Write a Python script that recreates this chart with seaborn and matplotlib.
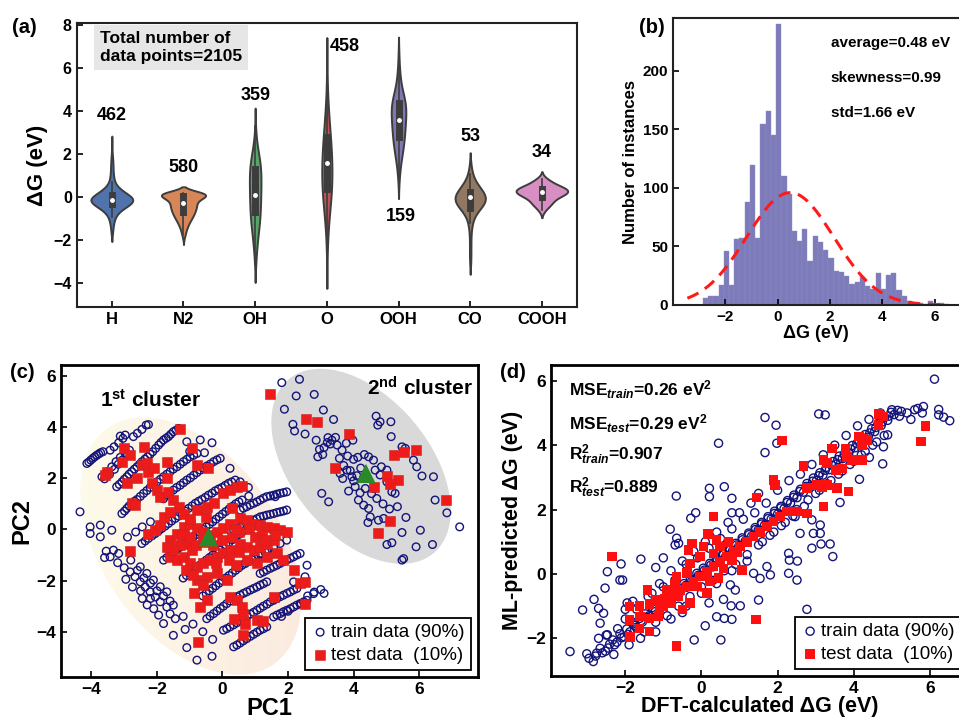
import numpy as np
import pandas as pd
import matplotlib
matplotlib.use("Agg")
import matplotlib.pyplot as plt
import matplotlib.transforms as mtransforms
from matplotlib.patches import Ellipse
from matplotlib.collections import PolyCollection
from matplotlib.colors import LinearSegmentedColormap
import seaborn as sns

plt.rcParams['font.family'] = ['Liberation Sans', 'DejaVu Sans']
plt.rcParams['font.weight'] = 'bold'
plt.rcParams['axes.labelweight'] = 'bold'
plt.rcParams['mathtext.fontset'] = 'custom'
plt.rcParams['mathtext.rm'] = 'Liberation Sans'
plt.rcParams['mathtext.it'] = 'Liberation Sans:italic'
plt.rcParams['mathtext.bf'] = 'Liberation Sans:bold'

categories = ["H", "N2", "OH", "O", "OOH", "CO", "COOH"]
count_labels = ["462", "580", "359", "458", "159", "53", "34"]
count_label_x = [0, 1, 2, 3.25, 4.03, 5, 6]
count_label_y = [3.83, 1.38, 4.76, 7.0, -0.9, 2.82, 2.1]

H_values = [-1.7, -1.5, -1.3, -1.1, -0.9, -0.7, -0.5, -0.3, -0.1, 0.1, 0.3, 0.5, 0.7, 0.9, 1.1, 1.3, 1.5, 1.7, 1.9, 2.1, 2.3, 2.5]
H_counts = [3, 4, 6, 9, 14, 25, 48, 80, 95, 72, 42, 22, 11, 8, 6, 5, 5, 4, 3, 1, 1, 1]
N2_values = [-1.9, -1.75, -1.6, -1.45, -1.3, -1.15, -1.0, -0.85, -0.7, -0.55, -0.4, -0.25, -0.1, 0.05, 0.2]
N2_counts = [3, 6, 9, 12, 17, 23, 30, 37, 42, 47, 50, 48, 55, 92, 112]
OH_values = [-3.1, -2.7, -2.3, -1.9, -1.5, -1.1, -0.7, -0.3, 0.1, 0.5, 0.9, 1.3, 1.7, 2.1, 2.5, 2.9, 3.3]
OH_counts = [4, 6, 11, 15, 22, 28, 31, 33, 34, 35, 36, 35, 30, 19, 10, 5, 2]
O_values = [-3.2, -2.6, -2.0, -1.4, -0.8, -0.2, 0.4, 1.0, 1.6, 2.2, 2.8, 3.4, 4.0, 4.6, 5.2, 5.8, 6.4]
O_counts = [3, 4, 9, 17, 30, 44, 55, 60, 58, 52, 42, 30, 20, 11, 6, 3, 2]
OOH_values = [0.8, 1.2, 1.6, 2.0, 2.4, 2.8, 3.2, 3.6, 4.0, 4.4, 4.8, 5.2, 5.6, 6.0, 6.6]
OOH_counts = [2, 3, 6, 10, 14, 16, 18, 19, 21, 21, 13, 7, 4, 3, 2]
CO_values = [-2.9, -2.3, -1.7, -1.2, -0.8, -0.5, -0.25, 0.0, 0.25, 0.5, 0.8, 1.1, 1.4]
CO_counts = [1, 1, 1, 2, 3, 6, 10, 11, 8, 5, 3, 1, 1]
COOH_values = [-0.6, -0.45, -0.3, -0.15, 0.0, 0.1, 0.2, 0.3, 0.4, 0.5, 0.6, 0.75, 0.85]
COOH_counts = [1, 1, 3, 2, 3, 3, 4, 5, 4, 3, 2, 2, 1]

# ---------------- (b) histogram data -------------
hist_start = -2.86
hist_width = 0.2
hist_counts = [6, 8, 8, 17, 46, 17, 56, 57, 88, 120, 57, 155, 166, 145, 240, 110, 95, 63, 55, 65,
               38, 59, 54, 47, 40, 29, 28, 25, 18, 20, 24, 16, 14, 27, 14, 26, 27, 13, 8, 3,
               2, 2, 1, 3, 1, 2, 1]
fit_mean, fit_std, fit_peak = 0.48, 1.66, 96.0
stats_text = ["average=0.48 eV", "skewness=0.99", "std=1.66 eV"]
stats_y = [224, 194, 164]

# ---------------- (c) PCA data -------------
pc_train = [
    (-4.14, 2.58), (-4.02, 2.71), (-3.90, 2.84), (-3.78, 2.95), (-3.65, 3.04),
    (-4.08, 2.64), (-3.96, 2.78), (-3.84, 2.90), (-3.72, 3.00),
    (-3.43, 3.10), (-3.31, 3.23), (-3.17, 3.39), (-3.04, 3.56), (-3.12, 3.65), (-2.97, 3.69),
    (-2.60, 3.76), (-2.46, 3.91), (-2.33, 4.08), (-2.72, 3.63), (-2.26, 4.10),
    (-3.68, 2.06), (-3.53, 2.25), (-3.38, 2.45), (-3.25, 2.65), (-3.12, 2.82), (-2.97, 2.97), (-2.84, 3.10),
    (-3.60, 1.98), (-3.45, 2.15), (-3.30, 2.35), (-3.18, 2.55), (-3.05, 2.72), (-2.90, 2.90),
    (-3.23, 1.67), (-3.07, 1.86), (-2.92, 2.06), (-2.77, 2.26), (-2.61, 2.45), (-2.46, 2.65), (-2.29, 2.84),
    (-2.13, 3.04), (-1.95, 3.30), (-1.80, 3.50), (-1.65, 3.63), (-1.50, 3.82), (-1.34, 3.95),
    (-3.15, 1.76), (-3.00, 1.96), (-2.85, 2.16), (-2.69, 2.36), (-2.53, 2.55), (-2.37, 2.75), (-2.21, 2.94),
    (-2.04, 3.17), (-1.88, 3.40), (-1.72, 3.57), (-1.58, 3.72), (-1.42, 3.88),
    (-3.07, 0.62), (-2.92, 0.82), (-2.77, 1.02), (-2.61, 1.17), (-2.41, 1.41), (-2.21, 1.64), (-2.00, 1.86),
    (-1.80, 2.06), (-1.60, 2.26), (-1.39, 2.45), (-1.19, 2.65), (-0.99, 2.84), (-0.78, 2.97),
    (-2.99, 0.72), (-2.85, 0.92), (-2.69, 1.10), (-2.51, 1.29), (-2.31, 1.52), (-2.10, 1.75), (-1.90, 1.96),
    (-1.70, 2.16), (-1.50, 2.36), (-1.29, 2.55), (-1.09, 2.74), (-0.88, 2.90),
    (-2.46, -0.55), (-2.26, -0.35), (-2.05, -0.16), (-1.85, 0.04), (-1.65, 0.23), (-1.44, 0.43), (-1.24, 0.62),
    (-1.04, 0.82), (-0.83, 1.02), (-0.63, 1.17), (-0.43, 1.34), (-0.22, 1.51), (-0.02, 1.64), (0.18, 1.80), (0.39, 1.93),
    (-2.36, -0.45), (-2.15, -0.25), (-1.95, -0.06), (-1.75, 0.13), (-1.55, 0.33), (-1.34, 0.52), (-1.14, 0.72),
    (-0.93, 0.92), (-0.73, 1.10), (-0.53, 1.25), (-0.32, 1.42), (-0.12, 1.58), (0.08, 1.72), (0.28, 1.86),
    (-3.33, -0.81), (-3.17, -0.94), (-3.43, -1.07), (-4.04, 0.10), (-4.04, -0.16), (-3.73, 0.17), (-3.73, -0.29),
    (-3.38, -0.03), (-4.35, 0.69), (-3.55, -0.85), (-3.60, -1.10),
    (-2.82, -1.66), (-2.67, -1.85), (-2.51, -2.05), (-2.36, -2.25), (-2.21, -2.44), (-2.05, -2.64), (-1.90, -2.83),
    (-1.70, -3.03), (-1.50, -2.96), (-2.51, -1.46), (-2.31, -1.72), (-2.11, -1.98), (-1.90, -2.24), (-1.70, -2.44),
    (-2.95, -1.95), (-2.75, -2.25), (-2.45, -2.70), (-2.30, -2.95), (-2.10, -3.10),
    (-3.20, -1.30), (-3.00, -1.50), (-2.80, -1.20), (-2.60, -1.60), (-2.40, -1.90), (-2.20, -2.10), (-2.00, -2.40),
    (-1.80, -2.60), (-1.60, -2.80), (-2.50, -2.40), (-2.20, -2.70), (-1.95, -3.35), (-1.60, -3.30), (-1.20, -3.40),
    (-0.90, -3.70), (-0.60, -4.00), (-0.30, -4.30),
    (-1.80, -3.68), (-1.44, -3.49), (-1.14, -3.91), (-1.50, -4.14), (-0.78, -5.11), (-0.32, -4.96), (-1.09, -4.62),
    (-0.48, -3.49), (-0.27, -3.29), (-0.07, -3.09), (0.13, -2.90), (0.34, -2.70), (0.54, -2.57), (0.74, -2.44),
    (0.95, -2.31), (1.15, -2.18), (1.35, -2.05),
    (-0.38, -3.39), (-0.17, -3.19), (0.03, -3.00), (0.24, -2.80), (0.44, -2.63), (0.64, -2.50), (0.85, -2.37),
    (1.05, -2.25), (1.25, -2.12),
    (0.03, -3.94), (0.23, -3.81), (0.44, -3.65), (0.64, -3.49), (0.85, -3.31), (1.05, -3.16), (1.25, -3.00),
    (1.46, -2.83), (1.66, -2.70), (1.86, -2.57), (2.07, -2.44), (2.27, -2.31),
    (0.13, -3.88), (0.34, -3.73), (0.54, -3.57), (0.75, -3.40), (0.95, -3.24), (1.15, -3.08), (1.36, -2.92),
    (1.56, -2.77), (1.76, -2.63), (1.97, -2.50), (2.17, -2.37),
    (0.34, -4.59), (0.54, -4.44), (0.74, -4.27), (0.95, -4.10), (1.15, -3.94), (1.35, -3.81),
    (0.44, -4.52), (0.64, -4.35), (0.85, -4.18), (1.05, -4.02), (1.25, -3.88),
    (1.56, -3.42), (1.76, -3.29), (1.96, -3.16), (2.17, -3.03), (2.37, -2.90), (2.58, -2.77),
    (1.66, -3.35), (1.86, -3.22), (2.07, -3.10), (2.27, -2.96), (2.48, -2.83),
    (1.15, -1.72), (1.35, -1.59), (1.56, -1.46), (1.76, -1.33), (1.96, -1.20), (2.17, -1.07), (2.37, -0.94),
    (1.25, -1.66), (1.46, -1.52), (1.66, -1.40), (1.86, -1.26), (2.07, -1.13), (2.27, -1.00),
    (0.95, -1.07), (1.15, -0.94), (1.35, -0.81), (1.56, -0.68), (1.76, -0.55), (1.96, -0.42),
    (0.54, 0.76), (0.74, 0.89), (0.95, 1.02), (1.15, 1.15), (1.35, 1.28), (1.56, 1.34), (1.76, 1.41), (1.96, 1.47),
    (0.64, 0.83), (0.85, 0.96), (1.05, 1.08), (1.25, 1.22), (1.46, 1.31), (1.66, 1.38), (1.86, 1.44),
    (0.34, -0.03), (0.54, 0.10), (0.74, 0.23), (0.95, 0.36), (1.15, 0.49), (1.35, 0.56), (1.56, 0.62), (1.76, 0.69), (1.96, 0.76),
    (0.44, 0.04), (0.64, 0.17), (0.85, 0.30), (1.05, 0.42), (1.25, 0.52), (1.46, 0.59), (1.66, 0.66), (1.86, 0.72),
    (2.58, -1.40), (2.52, -1.85), (2.78, -2.51), (2.17, -2.05), (2.60, -2.60), (2.80, -2.45), (3.00, -2.35),
    (3.10, -2.50), (2.40, -2.90), (2.00, -3.20), (1.80, -3.40),
    (-1.09, 3.43), (-0.68, 3.50), (-0.32, 3.39), (0.23, 2.39), (0.54, 1.86), (0.79, 1.64), (1.61, 1.28),
    (-1.90, 1.28), (-1.70, 1.34), (-1.50, 1.54), (-1.29, 1.73), (-1.09, 1.93), (-0.88, 2.12), (-0.68, 2.32),
    (-0.48, 2.48), (-0.27, 2.65), (-0.07, 2.78),
    (-1.80, 1.20), (-1.60, 1.44), (-1.40, 1.64), (-1.19, 1.83), (-0.98, 2.02), (-0.78, 2.22), (-0.58, 2.40),
    (-0.37, 2.56), (-0.17, 2.72),
    (-1.80, -1.20), (-1.60, -1.00), (-1.40, -0.80), (-1.20, -0.60), (-1.00, -0.40), (-0.80, -0.20), (-0.60, 0.00),
    (-0.40, 0.20), (-0.20, 0.40), (0.00, 0.60), (0.20, 0.80), (0.40, 1.00), (0.60, 1.15), (0.80, 1.30),
    (-1.70, -1.10), (-1.50, -0.90), (-1.30, -0.70), (-1.10, -0.50), (-0.90, -0.30), (-0.70, -0.10), (-0.50, 0.10),
    (-0.30, 0.30), (-0.10, 0.50), (0.10, 0.70), (0.30, 0.90), (0.50, 1.08),
    (-1.20, -1.90), (-1.00, -1.70), (-0.80, -1.50), (-0.60, -1.30), (-0.40, -1.10), (-0.20, -0.90), (0.00, -0.70),
    (0.20, -0.50), (0.40, -0.30), (0.60, -0.10), (0.80, 0.05), (1.00, 0.20),
    (-1.10, -1.80), (-0.90, -1.60), (-0.70, -1.40), (-0.50, -1.20), (-0.30, -1.00), (-0.10, -0.80), (0.10, -0.60),
    (0.30, -0.40), (0.50, -0.20), (0.70, -0.02), (0.90, 0.12),
    (-0.60, -2.60), (-0.40, -2.40), (-0.20, -2.20), (0.00, -2.00), (0.20, -1.80), (0.40, -1.60), (0.60, -1.40),
    (0.80, -1.25), (1.00, -1.10), (1.20, -0.95), (1.40, -0.80),
    (-0.50, -2.50), (-0.30, -2.30), (-0.10, -2.10), (0.10, -1.90), (0.30, -1.70), (0.50, -1.50), (0.70, -1.33),
    (0.90, -1.18), (1.10, -1.02), (1.30, -0.88),
    (-2.20, 0.30), (-2.45, 0.10), (-2.65, -0.10), (-2.90, -0.30), (-1.00, 3.05), (-0.55, 3.00),
    # cluster 2
    (1.81, 5.74), (2.35, 5.87), (2.25, 5.22), (1.89, 4.70), (2.80, 5.28), (3.08, 4.67), (3.39, 4.30), (2.15, 4.11),
    (2.20, 3.85), (2.52, 3.73), (2.86, 3.49), (3.22, 3.59), (3.34, 3.49), (3.29, 3.34), (2.96, 3.13), (2.91, 2.84),
    (3.06, 2.93), (3.57, 2.78), (3.82, 2.87), (3.78, 3.37), (3.98, 3.49), (4.00, 2.74), (4.13, 2.82), (4.33, 2.93),
    (4.46, 2.84), (3.59, 2.19), (3.67, 1.99), (3.80, 2.32), (3.95, 2.06), (4.05, 1.67), (4.20, 1.43), (4.36, 1.60),
    (4.15, 1.15), (4.31, 0.95), (4.46, 0.82), (4.71, 1.21), (4.66, 2.32), (4.81, 2.13), (5.02, 2.32), (5.17, 1.47),
    (5.27, 1.41), (5.12, 1.77), (3.03, 1.41), (3.24, 1.08), (4.44, 0.27), (4.69, 4.43), (4.81, 4.21), (5.14, 4.21),
    (4.74, 4.08), (5.15, 3.63), (5.48, 3.23), (5.58, 3.17), (5.83, 2.71), (5.93, 2.45), (6.09, 2.09), (6.44, 2.06),
    (6.49, 1.15), (6.85, 0.65), (7.24, 0.10), (5.60, 0.47), (5.48, -0.12), (5.91, -0.68), (6.04, -0.03), (6.41, -0.59),
    (5.02, -0.59), (5.17, -0.52), (5.48, -1.20), (5.53, -1.14), (4.92, 0.43), (4.76, 0.36), (4.51, 0.49), (5.34, 0.89),
    (5.02, 1.86), (4.85, 2.45), (4.61, 2.71), (3.10, 3.20), (3.20, 3.40), (3.45, 3.60), (3.50, 3.30), (3.65, 3.10),
    (3.70, 2.50), (3.90, 2.30), (4.10, 2.10), (4.22, 2.40), (4.30, 2.00), (4.00, 1.90), (3.85, 1.50), (4.55, 1.40),
    (4.62, 1.60), (4.90, 1.00), (5.10, 0.80),
]
pc_test = [
    (-3.53, 2.25), (-3.60, 2.13), (-3.02, 3.17), (-2.82, 2.91), (-3.07, 2.65), (-2.92, 1.80), (-2.61, 2.00),
    (-2.77, 1.02), (-2.67, 0.95), (-2.41, 3.23), (-1.70, 2.65), (-1.29, 3.91), (-0.94, 3.17), (-0.78, 2.52),
    (-0.43, 2.39), (-2.46, 2.52), (-2.26, 2.26), (-2.16, 1.80), (-2.00, 1.54), (-1.90, 1.28), (-1.70, 2.00),
    (-1.65, 1.47), (-1.50, 1.15), (-1.34, 0.89), (-1.19, 0.62), (-0.78, 0.76), (-0.48, 0.89), (-0.27, 1.02),
    (0.03, 1.41), (0.23, 1.54), (0.44, 1.64), (0.59, 1.69), (0.29, 0.82), (-2.26, -0.16), (-2.05, -0.03),
    (-1.90, 0.17), (-2.82, -0.84), (-1.60, -0.42), (-1.39, -0.16), (-1.19, 0.10), (-0.99, 0.23), (-0.78, 0.04),
    (-0.58, -0.09), (-0.38, -0.22), (-0.17, -0.09), (0.03, 0.04), (0.23, 0.23), (0.54, 0.43), (0.74, 0.36),
    (0.95, 0.23), (1.15, 0.17), (1.35, 0.10), (1.56, 0.04), (1.76, -0.03), (1.96, -0.09), (-1.60, -1.07),
    (-1.39, -1.20), (-1.19, -1.07), (-0.99, -1.33), (-0.78, -1.46), (-0.58, -1.33), (-0.38, -1.20), (-0.17, -1.07),
    (0.03, -0.94), (0.54, -0.55), (0.74, -0.68), (0.95, -0.81), (1.15, -0.68), (1.35, -0.55), (1.56, -0.42),
    (0.74, -1.20), (1.05, -1.33), (1.35, -1.07), (1.66, -0.94), (-0.78, -1.98), (-0.48, -1.85), (-0.17, -1.72),
    (0.13, -1.98), (-0.58, -2.18), (-0.88, -2.48), (-0.48, -2.77), (-0.68, -3.03), (0.23, -2.64), (0.44, -2.77),
    (0.59, -3.03), (0.64, -3.29), (0.34, -3.49), (0.70, -3.68), (0.64, -4.14), (1.05, -3.55), (1.25, -3.58),
    (1.56, -2.64), (1.86, -1.20), (2.17, -1.59), (2.37, -2.09), (2.52, -2.05), (2.52, -2.92), (-0.76, -4.40),
    (-1.24, -0.22), (-1.09, -0.55), (-0.94, -0.81), (-1.00, -0.30), (-0.80, -0.60), (-0.60, -0.50), (-0.30, -0.60),
    (0.00, -0.40), (0.30, -0.30), (0.50, -0.10), (0.80, 0.00), (1.00, -0.30), (1.20, -0.20), (0.40, 0.00),
    (-1.30, -0.60), (-1.50, -0.80), (-1.70, -0.70), (-1.10, -1.60), (-0.90, -1.80), (-0.20, -1.30), (0.20, -1.20),
    (0.40, -1.40), (-1.80, 0.50), (-1.60, 0.70), (-1.00, 0.40), (-0.50, 0.50), (1.30, -0.40), (1.60, -0.20),
    (0.25, -0.80), (0.50, -0.90), (-2.30, 2.60), (-2.10, 2.40),
    # cluster 2
    (1.44, 5.29), (2.56, 4.30), (2.88, 4.21), (3.85, 3.73), (3.44, 2.39), (4.61, 1.64), (5.02, 2.09), (5.37, 1.93),
    (5.10, 1.77), (5.24, 2.93), (5.53, 3.04), (5.90, 3.10), (6.83, 1.15), (5.12, 0.34), (4.76, -0.12),
]
centroid_pc1 = [-0.43, 4.38]
centroid_pc2 = [-0.29, 2.19]

# ---------------- (d) parity data -------------
parity_train = [
    (-2.95, -2.62), (-2.78, -2.55), (-2.66, -2.31), (-2.52, -2.40), (-2.41, -2.18), (-2.33, -2.05), (-2.22, -2.12),
    (-2.14, -1.86), (-2.03, -1.95), (-1.96, -1.71), (-1.88, -1.80), (-1.79, -1.55), (-1.71, -1.66), (-1.62, -1.38),
    (-1.55, -1.49), (-1.47, -1.24), (-1.38, -1.30), (-1.30, -1.05), (-1.21, -1.17), (-1.12, -0.92), (-1.05, -1.01),
    (-0.97, -0.78), (-0.88, -0.85), (-0.80, -0.62), (-0.71, -0.70), (-0.63, -0.45), (-0.55, -0.55), (-0.46, -0.30),
    (-0.38, -0.41), (-0.29, -0.16), (-0.21, -0.25), (-0.12, 0.02), (-0.04, -0.08), (0.05, 0.18), (0.13, 0.06),
    (0.22, 0.33), (0.30, 0.22), (0.39, 0.48), (0.47, 0.37), (0.56, 0.62), (0.64, 0.55), (0.73, 0.80), (0.81, 0.70),
    (0.90, 0.95), (0.98, 0.86), (1.07, 1.12), (1.15, 1.02), (1.24, 1.27), (1.32, 1.18), (1.41, 1.44), (1.49, 1.36),
    (1.58, 1.60), (1.66, 1.52), (1.75, 1.78), (1.83, 1.70), (1.92, 1.95), (2.00, 1.86), (2.09, 2.10), (2.17, 2.03),
    (2.26, 2.28), (2.34, 2.20), (2.43, 2.45), (2.51, 2.37), (2.60, 2.63), (2.68, 2.54), (2.77, 2.81), (2.85, 2.72),
    (2.94, 2.98), (3.02, 2.90), (3.11, 3.14), (3.19, 3.07), (3.28, 3.31), (3.36, 3.24), (3.45, 3.49), (3.53, 3.41),
    (3.62, 3.66), (3.70, 3.58), (3.79, 3.82), (3.87, 3.75), (3.96, 3.99), (4.04, 3.92), (4.13, 4.16), (4.21, 4.09),
    (4.30, 4.33), (4.38, 4.25), (4.47, 4.51), (4.55, 4.42), (4.64, 4.68), (4.72, 4.61), (4.81, 4.86), (4.89, 4.77),
    (4.98, 5.02), (5.06, 4.95), (5.15, 5.08), (5.25, 5.05),
    (-2.60, -2.45), (-2.45, -2.30), (-2.28, -2.20), (-2.10, -1.98), (-1.92, -1.88), (-1.75, -1.60), (-1.58, -1.45),
    (-1.42, -1.35), (-1.25, -1.10), (-1.08, -0.98), (-0.92, -0.80), (-0.75, -0.66), (-0.58, -0.48), (-0.42, -0.36),
    (-0.25, -0.20), (-0.08, -0.04), (0.08, 0.12), (0.25, 0.28), (0.42, 0.42), (0.58, 0.60), (0.75, 0.74),
    (0.92, 0.90), (1.08, 1.06), (1.25, 1.22), (1.42, 1.38), (1.58, 1.55), (1.75, 1.72), (1.92, 1.88), (2.08, 2.05),
    (2.25, 2.22), (2.42, 2.38), (2.58, 2.56), (2.75, 2.72), (2.92, 2.88), (3.08, 3.05), (3.25, 3.22), (3.42, 3.38),
    (3.58, 3.55), (3.75, 3.72), (3.92, 3.88), (4.08, 4.05), (4.25, 4.22), (4.42, 4.38), (4.58, 4.55), (4.75, 4.72),
    (4.92, 4.90),
    (-1.40, -0.70), (-1.10, -0.30), (-0.80, 0.10), (-0.50, 0.40), (-0.20, 0.70), (0.10, 1.00), (0.40, 1.30),
    (0.70, 1.60), (1.00, 1.90), (1.60, 1.00), (1.90, 1.30), (2.20, 1.60), (2.50, 2.00), (2.80, 2.30), (3.10, 2.60),
    (3.40, 2.90), (3.70, 3.20), (4.00, 3.50), (4.30, 3.80), (4.60, 4.10), (-1.80, -1.50), (-2.20, -1.70),
    (-1.60, -2.00), (-1.20, -1.80), (-0.80, -1.40), (-0.40, -1.00), (0.00, -0.60), (0.40, -0.30), (0.80, 0.10),
    (1.20, 0.40),
    (-2.50, -1.90), (-2.30, -2.50), (-2.00, -1.40), (-1.90, -2.20), (-1.70, -1.10), (-1.50, -1.80), (-1.30, -0.60),
    (-1.20, -1.50), (-1.00, -0.40), (-0.90, -1.30), (-0.70, -0.20), (-0.60, -1.00), (-0.40, 0.30), (-0.30, -0.70),
    (-0.10, 0.50), (0.00, -0.40), (0.20, 0.80), (0.30, -0.20), (0.50, 1.10), (0.60, 0.10), (0.80, 1.40), (0.90, 0.30),
    (1.10, 1.70), (1.20, 0.60), (1.40, 1.90), (1.50, 0.90), (1.70, 2.20), (1.80, 1.20), (2.00, 2.60), (2.10, 1.50),
    (2.30, 2.90), (2.40, 1.80), (2.60, 3.10), (2.70, 2.10), (2.90, 3.40), (3.00, 2.50), (3.20, 3.70), (3.30, 2.80),
    (3.50, 4.00), (3.60, 3.10), (3.80, 4.30), (3.90, 3.40), (4.10, 4.60), (4.20, 3.70), (4.40, 4.80), (4.50, 4.00),
    (4.70, 5.00), (4.80, 4.30), (5.00, 5.10), (5.20, 4.90), (5.40, 5.00), (5.60, 5.10), (5.80, 5.00), (5.50, 4.80),
    (6.12, 6.05), (3.08, 4.97), (3.25, 4.94), (1.67, 4.86), (1.96, 4.62), (0.45, 4.06), (1.98, 4.06), (1.67, 3.77),
    (-0.66, 2.42), (0.21, 2.66), (0.60, 2.71), (0.21, 2.40), (0.80, 2.35), (-0.28, 1.73), (-0.82, 1.39), (-0.65, 1.11),
    (-0.60, 0.95), (-0.69, 0.90), (-1.59, 0.46), (-2.11, 0.31), (-2.07, -0.19), (-2.14, -0.19), (-2.47, 0.07),
    (-2.53, -0.44), (-2.82, -0.79), (-3.12, -1.12), (-3.45, -2.41), (-3.01, -2.48), (-2.84, -2.72), (-2.75, -2.46),
    (-2.70, -1.07), (-2.57, -1.22), (-2.66, -1.53), (-2.70, -2.00), (-2.47, -1.89), (-0.19, -2.05), (0.10, -1.61),
    (0.60, -1.38), (0.80, -1.41), (1.02, -0.99), (0.78, -0.99), (0.40, -1.33), (0.51, -2.05), (1.50, -0.81),
    (2.77, -1.10), (2.29, 0.64), (2.31, 0.43), (2.52, 0.40), (2.29, 0.02), (2.51, -0.19), (2.90, 0.80), (3.14, 0.93),
    (3.45, 0.54), (3.38, 0.93), (2.94, 1.26), (3.12, 1.26), (3.64, 2.22), (3.12, 1.52), (2.46, 1.78), (2.59, 1.26),
    (2.90, 1.68), (4.15, 2.94), (4.76, 3.42), (4.41, 3.62), (4.78, 3.95), (4.89, 4.32), (5.68, 5.14), (5.83, 5.20),
    (6.23, 4.94), (6.36, 4.87), (6.52, 4.76), (6.23, 5.11), (1.54, -0.14), (1.81, -0.03), (1.72, 0.23), (1.37, 0.02),
    (0.76, -0.34), (0.89, -0.50), (0.58, -0.79), (-1.95, -0.90), (-1.80, -0.85), (-2.00, -1.10), (1.50, 2.50),
    (1.30, 2.20), (0.80, 1.90), (-0.15, 1.90), (-1.20, 0.20), (-1.00, 0.50), (-0.50, -1.20), (0.20, -0.90),
]
parity_test = [
    (-2.35, 0.54), (-1.89, -1.01), (-1.89, -1.43), (-1.87, -1.95), (-1.63, -0.99), (-1.61, -1.32), (-1.63, -1.69),
    (-1.36, -0.94), (-1.36, -1.38), (-1.36, -1.79), (-1.13, -1.32), (-1.42, -0.50), (-0.65, -2.24), (1.44, -1.41),
    (1.06, 0.12), (-0.95, -0.76), (-0.73, -0.60), (-0.56, -0.50), (-0.38, -0.39), (-0.21, -0.24), (-0.03, -0.08),
    (0.14, 0.07), (0.32, 0.23), (0.49, 0.38), (0.67, 0.54), (0.84, 0.69), (1.02, 0.85), (1.19, 1.00), (1.37, 1.16),
    (1.54, 1.31), (1.72, 1.47), (1.89, 1.63), (2.07, 1.78), (2.24, 1.94), (-0.65, -0.08), (-0.38, 0.02),
    (-0.30, 0.33), (-0.03, 0.54), (-0.12, -0.39), (0.14, -0.60), (0.32, 0.64), (0.49, 0.85), (0.05, 0.85),
    (-0.25, 0.95), (-0.34, 0.75), (0.19, 1.26), (0.40, 1.06), (0.71, 1.00), (0.93, 0.69), (0.80, 0.43), (0.58, 0.17),
    (0.45, -0.13), (0.23, -0.24), (0.32, 1.78), (0.16, 1.24), (1.45, 2.38), (1.89, 2.92), (1.94, 2.76), (2.11, 4.14),
    (2.68, 3.35), (2.77, 2.66), (2.51, 1.94), (2.77, 1.88), (3.21, 2.09), (3.56, 2.66), (3.86, 2.56), (3.03, 2.76),
    (3.16, 2.71), (3.29, 2.76), (3.43, 3.90), (3.21, 3.54), (3.29, 3.44), (3.54, 3.23), (3.69, 3.28), (3.78, 3.90),
    (3.82, 3.64), (3.95, 3.54), (4.08, 3.54), (4.21, 3.54), (4.13, 4.27), (4.26, 4.21), (4.35, 4.16), (4.21, 4.01),
    (4.65, 4.97), (4.78, 4.89), (4.65, 4.63), (5.76, 4.11), (5.88, 4.60), (-1.20, -0.80), (-1.00, -1.00),
    (-0.80, -0.90), (-0.60, -0.70), (-0.50, -1.10), (-0.30, -0.90), (-1.10, -1.10), (-0.90, -0.50), (-0.70, -0.30),
]
metric_texts = [r"MSE$_{train}$=0.26 eV$^{2}$", r"MSE$_{test}$=0.29 eV$^{2}$",
                r"R$^{2}_{train}$=0.907", r"R$^{2}_{test}$=0.889"]
metric_y = [5.71, 4.68, 3.70, 2.68]

# =====================================================================
fig = plt.figure(figsize=(9.59, 7.21), dpi=100)
W, Hh = 959.0, 721.0
def pos(l, t, r, b):
    return [l / W, 1 - b / Hh, (r - l) / W, (b - t) / Hh]

ax_a = fig.add_axes(pos(76.7, 23.3, 577, 307))
ax_b = fig.add_axes(pos(673, 18.3, 959, 305))
ax_c = fig.add_axes(pos(61, 365, 478, 677))
ax_d = fig.add_axes(pos(551, 365, 968, 676))

def style(ax, lw=1.5, size=10.5, color='#222222'):
    for s in ax.spines.values():
        s.set_linewidth(lw)
        s.set_color(color)
    ax.tick_params(direction='in', length=4, width=1.2, labelsize=size, colors='black')
    for t in ax.get_xticklabels() + ax.get_yticklabels():
        t.set_fontweight('bold')

# ---------------- (a) -------------
vals_map = {"H": (H_values, H_counts), "N2": (N2_values, N2_counts), "OH": (OH_values, OH_counts),
            "O": (O_values, O_counts), "OOH": (OOH_values, OOH_counts), "CO": (CO_values, CO_counts),
            "COOH": (COOH_values, COOH_counts)}
rows = []
for c in categories:
    v, n = vals_map[c]
    rows.append(pd.DataFrame({"group": c, "dG": np.repeat(v, n)}))
df_v = pd.concat(rows, ignore_index=True)
n_before = len(ax_a.collections)
sns.violinplot(data=df_v, x="group", y="dG", order=categories, color="#4C72B0", saturation=1,
               density_norm="area", width=0.72, linewidth=1.4, linecolor="#3d3d3d", inner="box",
               inner_kws=dict(box_width=5, whis_width=1.2, marker="o", markersize=2.5), ax=ax_a)
pal = sns.color_palette("deep", len(categories))
polys = [c for c in ax_a.collections[n_before:] if isinstance(c, PolyCollection)]
for p, col in zip(polys, pal):
    p.set_facecolor(sns.desaturate(col, 0.92))
ax_a.set_xlim(-0.49, 6.49)
ax_a.set_ylim(-5.1, 8.1)
ax_a.set_xlabel("")
ax_a.set_ylabel("ΔG (eV)", fontsize=16, fontweight='bold', labelpad=4)
ax_a.set_yticks([-4, -2, 0, 2, 4, 6, 8])
style(ax_a, size=11.5)
for t in ax_a.get_xticklabels():
    t.set_fontsize(12)
for lx, ly, lt in zip(count_label_x, count_label_y, count_labels):
    ax_a.text(lx, ly, lt, ha='center', va='center', fontsize=13, fontweight='bold')
ax_a.text(0.046, 0.972, "Total number of\ndata points=2105", transform=ax_a.transAxes, ha='left', va='top',
          fontsize=12.5, fontweight='bold', linespacing=1.2,
          bbox=dict(boxstyle='square,pad=0.35', facecolor='#e6e6e6', edgecolor='none'))

# ---------------- (b) -------------
edges = [hist_start + hist_width * i for i in range(len(hist_counts) + 1)]
df_h = pd.DataFrame({"center": [e + hist_width / 2 for e in edges[:-1]], "count": hist_counts})
sns.histplot(data=df_h, x="center", weights="count", bins=edges, color='#7e7bba', alpha=1.0,
             edgecolor='#8f8cc8', linewidth=0.3, ax=ax_b)
xf = np.linspace(-3.45, 6.5, 300)
sns.lineplot(x=xf, y=fit_peak * np.exp(-0.5 * ((xf - fit_mean) / fit_std) ** 2), color='#ff1a1a',
             linewidth=2.2, linestyle=(0, (4, 2.5)), ax=ax_b)
ax_b.set_xlim(-4.0, 6.93)
ax_b.set_ylim(0, 245)
ax_b.set_xticks([-2, 0, 2, 4, 6])
ax_b.set_yticks([0, 50, 100, 150, 200])
ax_b.spines['right'].set_visible(False)
ax_b.set_xlabel("ΔG (eV)", fontsize=13, fontweight='bold', labelpad=1)
ax_b.set_ylabel("Number of instances", fontsize=12, fontweight='bold', labelpad=3)
style(ax_b, size=11)
for ty, tt in zip(stats_y, stats_text):
    ax_b.text(2.02, ty, tt, ha='left', va='center', fontsize=11, fontweight='bold')

# ---------------- (c) -------------
def ellipse(ax, cx, cy, w_in, h_in, ang, **kw):
    tr = fig.dpi_scale_trans + mtransforms.ScaledTranslation(cx, cy, ax.transData)
    e = Ellipse((0, 0), w_in, h_in, angle=ang, transform=tr, **kw)
    ax.add_patch(e)
    return e

e1 = ellipse(ax_c, -0.97, -0.65, 2.888, 1.776, 125.2, facecolor='none', edgecolor='none', zorder=0.5)
grad = np.linspace(0, 1, 256).reshape(1, -1)
cmap_g = LinearSegmentedColormap.from_list('g', ['#fefbea', '#fbeadf'])
im = ax_c.imshow(grad, cmap=cmap_g, extent=[-4.5, 2.6, -5.8, 4.5], aspect='auto', origin='lower', zorder=0.4)
im.set_clip_path(e1)
ellipse(ax_c, 4.23, 2.47, 2.264, 1.378, 129.8, facecolor='#d9d9d9', edgecolor='none', zorder=0.5)

tr_x, tr_y = zip(*pc_train)
te_x, te_y = zip(*pc_test)
sns.scatterplot(x=list(tr_x), y=list(tr_y), marker='o', s=30, facecolor='none', edgecolor='#14147a',
                linewidth=1.0, label='train data (90%)', zorder=2, ax=ax_c)
sns.scatterplot(x=list(te_x), y=list(te_y), marker='s', s=52, color='#ee1b1b', edgecolor='#cc2020',
                linewidth=0.4, label='test data  (10%)', zorder=3, ax=ax_c)
sns.scatterplot(x=centroid_pc1, y=centroid_pc2, marker='^', s=190, color='#2a8a2a', edgecolor='none',
                zorder=4, ax=ax_c)
ax_c.set_xlim(-4.93, 7.8)
ax_c.set_ylim(-5.77, 6.43)
ax_c.set_xticks([-4, -2, 0, 2, 4, 6])
ax_c.set_yticks([-4, -2, 0, 2, 4, 6])
ax_c.set_xlabel("PC1", fontsize=17, fontweight='bold', labelpad=0)
ax_c.set_ylabel("PC2", fontsize=17, fontweight='bold', labelpad=2)
style(ax_c, lw=2, size=12.5, color='black')
ax_c.text(-3.73, 5.06, r"1$^{\mathbf{st}}$ cluster", fontsize=15, fontweight='bold', ha='left', va='center')
ax_c.text(4.41, 5.54, r"2$^{\mathbf{nd}}$ cluster", fontsize=15, fontweight='bold', ha='left', va='center')
leg = ax_c.legend(loc='lower right', prop={'weight': 'normal', 'size': 13.5}, frameon=True, fancybox=False,
                  edgecolor='black', framealpha=1, handletextpad=0.1, handlelength=1.0, borderpad=0.3,
                  labelspacing=0.3, borderaxespad=0.4)
leg.get_frame().set_linewidth(1.3)

# ---------------- (d) -------------
ptr_x, ptr_y = zip(*parity_train)
pte_x, pte_y = zip(*parity_test)
sns.scatterplot(x=list(ptr_x), y=list(ptr_y), marker='o', s=34, facecolor='none', edgecolor='#14147a',
                linewidth=1.0, label='train data (90%)', zorder=2, ax=ax_d)
sns.scatterplot(x=list(pte_x), y=list(pte_y), marker='s', s=48, color='#ff1010', edgecolor='none',
                linewidth=0, label='test data  (10%)', zorder=3, ax=ax_d)
ax_d.set_xlim(-3.95, 7.0)
ax_d.set_ylim(-3.17, 6.49)
ax_d.set_xticks([-2, 0, 2, 4, 6])
ax_d.set_yticks([-2, 0, 2, 4, 6])
ax_d.set_xlabel("DFT-calculated ΔG (eV)", fontsize=15.5, fontweight='bold', labelpad=0)
ax_d.set_ylabel("ML-predicted ΔG (eV)", fontsize=15.5, fontweight='bold', labelpad=2)
style(ax_d, lw=2, size=12.5, color='black')
for my, mt in zip(metric_y, metric_texts):
    ax_d.text(-3.47, my, mt, fontsize=12.5, fontweight='bold', ha='left', va='center')
leg = ax_d.legend(loc='lower right', prop={'weight': 'normal', 'size': 13.5}, frameon=True, fancybox=False,
                  edgecolor='black', framealpha=1, handletextpad=0.1, handlelength=1.0, borderpad=0.3,
                  labelspacing=0.3, borderaxespad=0.4)
leg.get_frame().set_linewidth(1.3)

# panel letters
fig.text(0.013, 0.962, "(a)", fontsize=14.5, fontweight='bold', va='center')
fig.text(0.666, 0.962, "(b)", fontsize=14.5, fontweight='bold', va='center')
fig.text(0.010, 0.483, "(c)", fontsize=14.5, fontweight='bold', va='center')
fig.text(0.521, 0.484, "(d)", fontsize=14.5, fontweight='bold', va='center')

fig.savefig("out.png", dpi=100)
